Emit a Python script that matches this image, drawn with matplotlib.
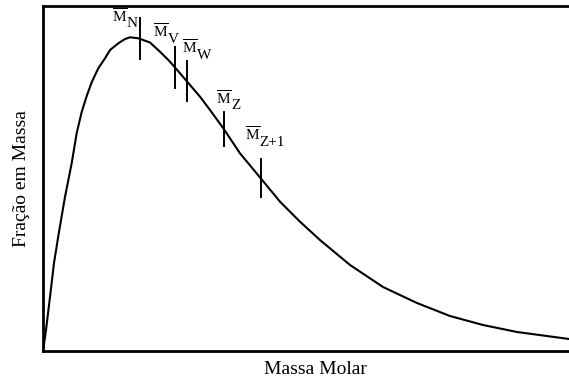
import numpy as np
import matplotlib
matplotlib.use("Agg")
import matplotlib.pyplot as plt

plt.rcParams["font.family"] = ["Liberation Serif", "DejaVu Serif"]
plt.rcParams["mathtext.fontset"] = "custom"
plt.rcParams["mathtext.rm"] = "Liberation Serif"

# molar mass distribution (arbitrary units)
molar_mass = [0.0, 0.57, 1.33, 2.09, 3.10, 4.18, 5.46, 6.41, 7.36, 8.31,
              9.26, 10.51, 11.79, 12.74, 14.32, 15.59, 16.54, 18.12, 20.34,
              22.24, 24.14, 26.05, 27.95, 29.85, 31.75, 34.28, 37.45, 41.39,
              45.06, 48.86, 52.66, 58.37, 64.64, 71.10, 77.38, 83.65, 90.11,
              100.0]
mass_fraction = [0.0, 6.09, 15.65, 25.51, 35.07, 44.64, 54.49, 63.2, 69.3,
                 73.9, 77.9, 81.94, 84.84, 87.25, 89.19, 90.43, 90.93,
                 90.64, 89.42, 86.75, 83.86, 80.49, 77.10, 73.71, 69.86,
                 64.55, 57.30, 50.06, 43.28, 37.48, 32.17, 24.93, 18.55,
                 13.91, 10.14, 7.54, 5.51, 3.48]

# average molar masses
avg_names = ["N", "V", "W", "Z", "Z+1"]
avg_values = [18.44, 25.10, 27.31, 34.41, 41.39]

fig = plt.figure(figsize=(5.69, 3.79), dpi=100)
ax = fig.add_axes([43 / 569, 1 - 351 / 379, 1 - 43 / 569, 345 / 379])

ax.plot(molar_mass, mass_fraction, color="black", lw=1.5)

# tick heights (pixels) and label offsets (pixels) relative to tick top
tick_px = [41, 41, 40, 34, 38]
offsets = [(-28, -4), (-22, 9), (-5, 7), (-8, 8), (-16, 18)]
px_per_unit = 345 / 100
for name, m, h, (dx, dy) in zip(avg_names, avg_values, tick_px, offsets):
    yc = np.interp(m, molar_mass, mass_fraction)
    half = h / 2 / px_per_unit
    ax.plot([m, m], [yc - half, yc + half], color="black", lw=1.4)
    ax.annotate(r"$\overline{\mathrm{M}}$", xy=(m, yc + half), xytext=(dx, dy),
                textcoords="offset pixels", ha="left", va="baseline", fontsize=11)
    ax.annotate(name, xy=(m, yc + half), xytext=(dx + 15, dy - 5),
                textcoords="offset pixels", ha="left", va="baseline", fontsize=11)

ax.set_xlim(0, 100)
ax.set_ylim(0, 100)
ax.set_xticks([])
ax.set_yticks([])
ax.spines["right"].set_visible(False)
for s in ["left", "bottom", "top"]:
    ax.spines[s].set_linewidth(2)

ax.set_xlabel("Massa Molar", fontsize=14)
ax.xaxis.set_label_coords(0.517, -0.03)
ax.set_ylabel("Fração em Massa", fontsize=14)
ax.yaxis.set_label_coords(-0.025, 0.5)

fig.savefig("out.png", dpi=100)
